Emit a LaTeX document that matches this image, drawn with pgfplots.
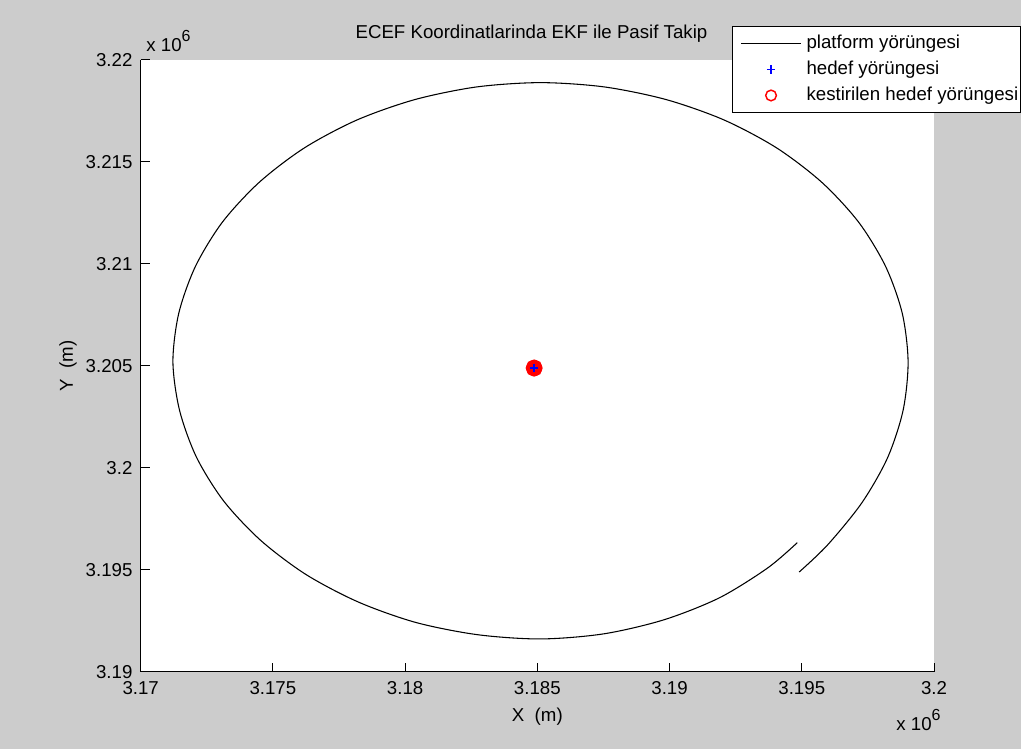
\documentclass[border=0pt]{standalone}
\usepackage{fontspec}
\setmainfont{Liberation Sans}
\usepackage{pgfplots}
\pgfplotsset{compat=1.18}
\definecolor{figgray}{RGB}{204,204,204}
\pgfplotsset{
  linelegend/.style={legend image code/.code={\path (0pt,0pt); \draw[##1] (6pt,0pt) -- (51pt,0pt);}},
  marklegend/.style={legend image code/.code={\path (0pt,0pt) (51pt,0pt); \draw[##1] plot coordinates {(28.5pt,0pt)};}},
}

\begin{document}
\begin{tikzpicture}[font=\fontsize{14}{16.8}\selectfont]
% figure background
\fill[figgray] (0,0) rectangle (765.75pt,561.75pt);
\useasboundingbox (0,0) rectangle (765.75pt,561.75pt);
\begin{axis}[
  at={(105.5pt,57.75pt)}, anchor=south west,
  scale only axis, width=595pt, height=459pt,
  xmin=3.17, xmax=3.2, ymin=3.19, ymax=3.22,
  clip=false,
  axis x line*=bottom, axis y line*=left,
  axis line style={line width=0.75pt, -},
  axis background/.style={fill=white},
  xtick={3.17,3.175,3.18,3.185,3.19,3.195,3.2},
  xticklabels={3.17,3.175,3.18,3.185,3.19,3.195,3.2},
  ytick={3.19,3.195,3.2,3.205,3.21,3.215,3.22},
  yticklabels={3.19,3.195,3.2,3.205,3.21,3.215,3.22},
  tick align=inside, major tick length=6.75pt,
  tick style={line width=0.75pt, black},
  xticklabel style={inner sep=0pt, yshift=-6.75pt},
  yticklabel style={inner sep=0pt, xshift=-6pt},
  title={ECEF Koordinatlarinda EKF ile Pasif Takip},
  title style={at={(axis description cs:0.4926,1.0217)}, anchor=base},
  xlabel={X\ \ (m)},
  xlabel style={at={(axis description cs:0.5,-0.0801)}, anchor=base},
  ylabel={Y\ \ (m)},
  ylabel style={at={(axis description cs:-0.0853,0.5)}, anchor=base},
  legend style={at={(axis description cs:0.7454,1.0556)}, anchor=north west,
    draw=black, line width=0.75pt, fill=white,
    inner xsep=0pt, inner ysep=6pt, row sep=6pt, column sep=2.25pt,
    nodes={inner xsep=1.5pt, inner ysep=0pt, text height=10.5pt, text depth=3pt},
    font=\fontsize{14}{16.8}\selectfont},
  legend cell align=left,
]
% platform trajectory
\addplot[black, line width=0.8pt, smooth, linelegend]
  coordinates {
  (3.19490,3.19490) (3.19597,3.19622) (3.19727,3.19829) (3.19824,3.20049)
  (3.19883,3.20282) (3.19902,3.20520) (3.19880,3.20758) (3.19817,3.20988)
  (3.19715,3.21205) (3.19576,3.21400) (3.19405,3.21569) (3.19206,3.21706)
  (3.18987,3.21806) (3.18753,3.21868) (3.18512,3.21889) (3.18271,3.21868)
  (3.18037,3.21806) (3.17818,3.21706) (3.17619,3.21569) (3.17448,3.21400)
  (3.17309,3.21205) (3.17207,3.20988) (3.17144,3.20758) (3.17122,3.20520)
  (3.17147,3.20283) (3.17211,3.20053) (3.17314,3.19838) (3.17454,3.19645)
  (3.17625,3.19478) (3.17823,3.19343) (3.18040,3.19243) (3.18273,3.19183)
  (3.18512,3.19162) (3.18751,3.19187) (3.18979,3.19256) (3.19189,3.19364)
  (3.19371,3.19510) (3.19483,3.19634)
  };
\addlegendentry{platform yörüngesi}
% legend slots for the target and its estimate (marks drawn below)
\addlegendimage{only marks, mark=+, color=blue, draw=blue, mark options={draw=blue, solid, line width=1.1pt}, mark size=3.2pt, marklegend}
\addlegendentry{hedef yörüngesi}
\addlegendimage{only marks, mark=o, color=red, draw=red, mark options={draw=red, solid, line width=1.1pt}, mark size=4pt, marklegend}
\addlegendentry{kestirilen hedef yörüngesi}
% estimated target positions
\addplot[only marks, mark=o, red, mark size=4pt, line width=1.5pt, forget plot]
  coordinates {
  (3.18488,3.20490) (3.18496,3.20490) (3.18480,3.20490)
  (3.18488,3.20501) (3.18488,3.20479) (3.18494,3.20498)
  (3.18482,3.20498) (3.18494,3.20482) (3.18482,3.20482)
  };
% true target position
\addplot[only marks, mark=+, blue, mark size=3.2pt, line width=1.1pt, forget plot]
  coordinates {(3.18488,3.20490)};
% axis multipliers
\node[anchor=base west] at (axis description cs:0.0013,1.0136)
  {x 10\raisebox{7.5pt}{\fontsize{12}{14}\selectfont 6}};
\node[anchor=base west] at (axis description cs:0.9467,-0.0948)
  {x 10\raisebox{7.5pt}{\fontsize{12}{14}\selectfont 6}};
\end{axis}
\end{tikzpicture}
\end{document}
